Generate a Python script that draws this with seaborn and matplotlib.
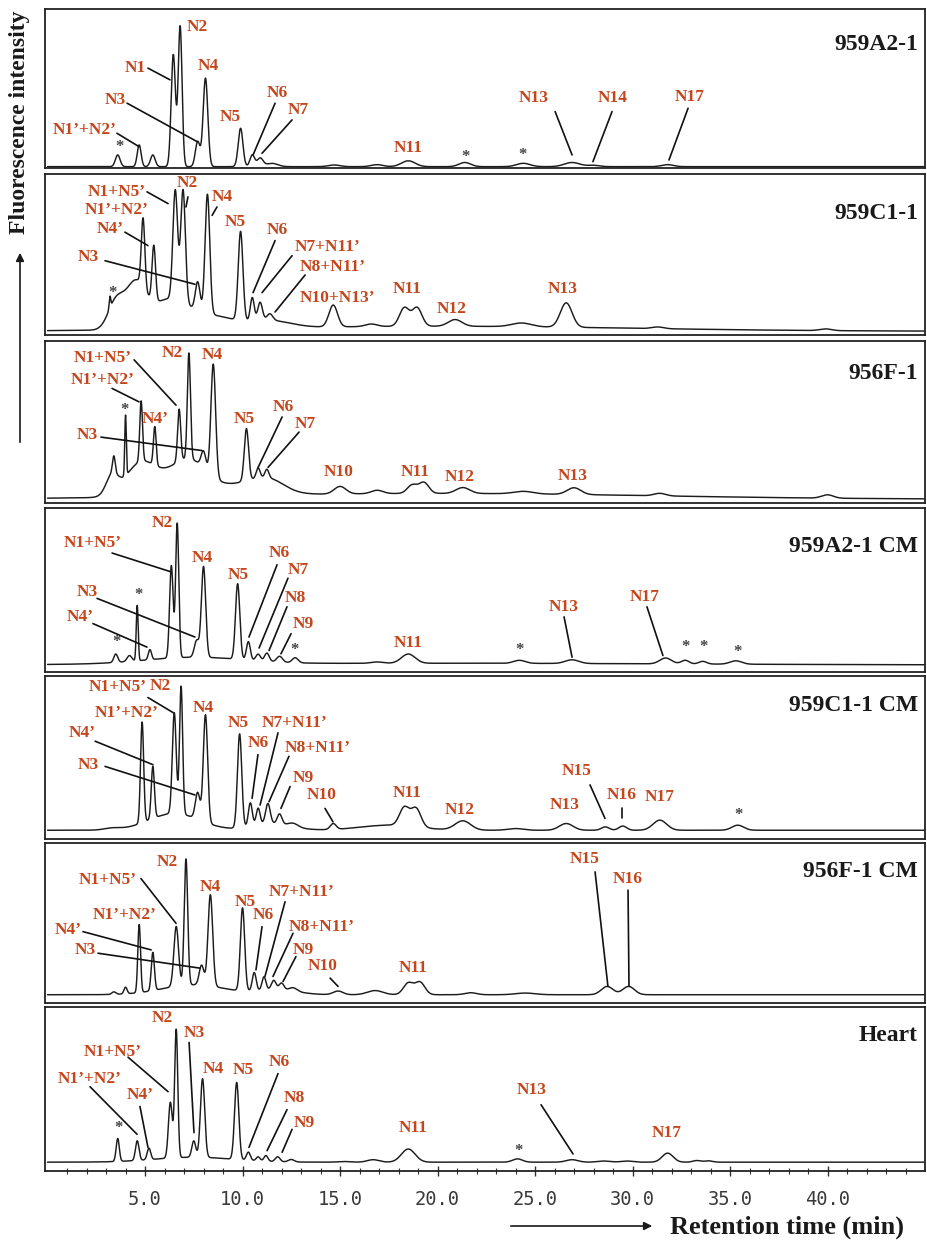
import numpy as np
import pandas as pd
import matplotlib
matplotlib.use("Agg")
import matplotlib.pyplot as plt
import seaborn as sns

# ---------------- data (peak tables) ----------------
panel_names = ["959A2-1", "959C1-1", "956F-1", "959A2-1 CM",
               "959C1-1 CM", "956F-1 CM", "Heart"]

# 959A2-1
a2_rt = [3.6, 4.7, 5.4, 6.45, 6.8, 7.7, 8.1, 9.9, 10.5, 10.9, 11.5, 14.7, 16.9,
         18.5, 21.4, 24.4, 26.9, 28.0, 31.8]
a2_h = [0.07, 0.13, 0.07, 0.67, 0.84, 0.15, 0.53, 0.23, 0.07, 0.05, 0.02, 0.01,
        0.012, 0.035, 0.025, 0.02, 0.025, 0.008, 0.012]
a2_w = [0.12, 0.10, 0.12, 0.11, 0.10, 0.12, 0.12, 0.12, 0.12, 0.15, 0.3, 0.3, 0.3,
        0.35, 0.3, 0.35, 0.4, 0.3, 0.3]
a2_base = 0.02

# 959C1-1
c1_rt = [3.5, 4.5, 6.2, 8.5, 11.5, 20.0,
         3.2, 4.9, 5.45, 6.55, 6.95, 7.7, 8.2, 9.9, 10.5, 10.9, 11.4, 14.65, 16.6,
         18.3, 18.95, 20.9, 24.3, 26.6, 31.3, 39.9]
c1_h = [0.16, 0.25, 0.17, 0.07, 0.04, 0.03,
        0.07, 0.41, 0.33, 0.65, 0.67, 0.17, 0.71, 0.53, 0.14, 0.11, 0.04, 0.13, 0.015,
        0.11, 0.11, 0.04, 0.022, 0.145, 0.01, 0.01]
c1_w = [0.4, 0.5, 1.0, 1.2, 1.0, 10.0,
        0.04, 0.09, 0.09, 0.12, 0.12, 0.12, 0.12, 0.12, 0.10, 0.12, 0.15, 0.22, 0.3,
        0.25, 0.25, 0.35, 0.5, 0.3, 0.3, 0.3]
c1_base = 0.04

# 956F-1
f1_rt = [3.3, 4.8, 7.2, 10.5, 11.5, 20.0,
         3.4, 4.0, 4.8, 5.5, 6.75, 7.25, 8.0, 8.5, 10.2, 10.8, 11.25, 15.0, 16.9,
         18.7, 19.3, 21.3, 24.4, 27.0, 31.4, 40.0]
f1_h = [0.11, 0.20, 0.22, 0.08, 0.04, 0.035,
        0.10, 0.36, 0.36, 0.23, 0.31, 0.63, 0.10, 0.67, 0.31, 0.06, 0.05, 0.045, 0.02,
        0.05, 0.065, 0.035, 0.015, 0.04, 0.015, 0.02]
f1_w = [0.3, 0.8, 1.0, 1.2, 0.7, 11.0,
        0.07, 0.04, 0.07, 0.07, 0.08, 0.08, 0.12, 0.12, 0.11, 0.10, 0.10, 0.3, 0.3,
        0.25, 0.25, 0.35, 0.5, 0.35, 0.3, 0.3]
f1_base = 0.04

# 959A2-1 CM
a2cm_rt = [7.5, 20.0,
           3.5, 4.2, 4.6, 5.25, 6.35, 6.65, 7.65, 8.0, 9.75, 10.3, 10.8, 11.25, 11.9,
           12.7, 16.9, 18.5, 24.2, 26.9, 31.7, 32.7, 33.6, 35.3]
a2cm_h = [0.04, 0.01,
          0.05, 0.035, 0.33, 0.06, 0.55, 0.80, 0.10, 0.54, 0.45, 0.11, 0.04, 0.05, 0.035,
          0.03, 0.008, 0.055, 0.018, 0.022, 0.035, 0.022, 0.016, 0.02]
a2cm_w = [2.5, 12.0,
          0.10, 0.12, 0.05, 0.08, 0.09, 0.08, 0.12, 0.11, 0.11, 0.10, 0.12, 0.12, 0.15,
          0.15, 0.3, 0.35, 0.3, 0.35, 0.3, 0.2, 0.2, 0.3]
a2cm_base = 0.054

# 959C1-1 CM
c1cm_rt = [3.3, 6.5, 11.5, 17.5,
           4.85, 5.4, 6.5, 6.85, 7.7, 8.1, 9.85, 10.4, 10.8, 11.3, 11.9, 12.6, 14.65,
           18.3, 18.9, 21.3, 24.0, 26.6, 28.6, 29.5, 31.4, 35.4]
c1cm_h = [0.01, 0.10, 0.04, 0.03,
          0.60, 0.31, 0.60, 0.76, 0.16, 0.64, 0.56, 0.14, 0.10, 0.12, 0.06, 0.02, 0.035,
          0.11, 0.11, 0.055, 0.01, 0.04, 0.02, 0.025, 0.06, 0.03]
c1cm_w = [0.4, 1.3, 1.0, 1.5,
          0.08, 0.08, 0.10, 0.08, 0.12, 0.11, 0.11, 0.10, 0.10, 0.12, 0.12, 0.25, 0.15,
          0.25, 0.25, 0.4, 0.4, 0.35, 0.2, 0.2, 0.35, 0.3]
c1cm_base = 0.07

# 956F-1 CM
f1cm_rt = [7.5, 11.8,
           3.4, 4.0, 4.7, 5.4, 6.6, 7.1, 7.9, 8.35, 10.0, 10.6, 11.1, 11.6, 12.0, 12.6,
           14.9, 16.8, 18.5, 19.1, 21.7, 24.5, 28.7, 29.8]
f1cm_h = [0.06, 0.03,
          0.015, 0.04, 0.41, 0.23, 0.36, 0.76, 0.12, 0.55, 0.50, 0.11, 0.08, 0.055, 0.04,
          0.02, 0.022, 0.025, 0.07, 0.075, 0.012, 0.01, 0.05, 0.05]
f1cm_w = [1.6, 1.0,
          0.10, 0.08, 0.07, 0.08, 0.12, 0.09, 0.12, 0.12, 0.11, 0.10, 0.10, 0.12, 0.12,
          0.2, 0.25, 0.4, 0.25, 0.25, 0.3, 0.5, 0.3, 0.3]
f1cm_base = 0.08

# Heart
heart_rt = [7.5,
            3.6, 4.6, 5.2, 6.3, 6.6, 7.5, 7.95, 9.7, 10.3, 10.8, 11.2, 11.8, 12.5, 15.2,
            16.7, 18.5, 24.1, 26.9, 28.5, 29.7, 31.8, 33.3, 33.9]
heart_h = [0.03,
           0.14, 0.12, 0.07, 0.34, 0.78, 0.10, 0.48, 0.47, 0.05, 0.025, 0.035, 0.03, 0.015,
           0.004, 0.015, 0.08, 0.02, 0.015, 0.007, 0.007, 0.055, 0.01, 0.008]
heart_w = [2.0,
           0.08, 0.09, 0.09, 0.10, 0.08, 0.10, 0.11, 0.11, 0.10, 0.10, 0.10, 0.12, 0.15,
           0.3, 0.3, 0.35, 0.25, 0.3, 0.3, 0.3, 0.28, 0.2, 0.2]
heart_base = 0.06

peak_tables = [(a2_rt, a2_h, a2_w, a2_base), (c1_rt, c1_h, c1_w, c1_base),
               (f1_rt, f1_h, f1_w, f1_base), (a2cm_rt, a2cm_h, a2cm_w, a2cm_base),
               (c1cm_rt, c1cm_h, c1cm_w, c1cm_base), (f1cm_rt, f1cm_h, f1cm_w, f1cm_base),
               (heart_rt, heart_h, heart_w, heart_base)]

tick_values = [5, 10, 15, 20, 25, 30, 35, 40]
tick_labels = ["5.0", "10.0", "15.0", "20.0", "25.0", "30.0", "35.0", "40.0"]

# ---------------- annotations: (text, x, y, leader line or None) ----------------
ann = [
    [("N2", 7.67, 0.856, None), ("N1", 4.49, 0.61, (5.15, 0.61, 6.28, 0.54)),
     ("N4", 8.23, 0.62, None), ("N3", 3.46, 0.42, (4.08, 0.40, 7.67, 0.17)),
     ("N1’+N2’", 1.92, 0.24, (3.56, 0.22, 4.69, 0.14)), ("N5", 9.36, 0.32, None),
     ("N6", 11.77, 0.46, (11.67, 0.40, 10.54, 0.09)),
     ("N7", 12.85, 0.36, (12.54, 0.30, 11.0, 0.10)), ("N11", 18.49, 0.13, None),
     ("*", 3.67, 0.14, None), ("*", 21.41, 0.08, None), ("*", 24.38, 0.09, None),
     ("N13", 24.95, 0.43, (26.03, 0.35, 26.9, 0.09)),
     ("N14", 29.0, 0.43, (28.95, 0.35, 27.97, 0.05)),
     ("N17", 32.95, 0.44, (32.85, 0.37, 31.87, 0.06))],
    [("N1+N5’", 3.56, 0.87, (5.1, 0.87, 6.18, 0.80)), ("N2", 7.15, 0.92, (7.2, 0.84, 7.1, 0.78)),
     ("N1’+N2’", 3.56, 0.76, None), ("N4", 8.95, 0.84, (8.69, 0.78, 8.44, 0.73)),
     ("N4’", 3.21, 0.65, (3.97, 0.63, 5.15, 0.55)), ("N5", 9.62, 0.69, None),
     ("N6", 11.77, 0.64, (11.67, 0.58, 10.54, 0.27)),
     ("N7+N11’", 14.38, 0.54, (12.54, 0.49, 11.0, 0.27)),
     ("N8+N11’", 14.64, 0.42, (13.21, 0.375, 11.67, 0.155)),
     ("N3", 2.08, 0.48, (2.95, 0.46, 7.56, 0.32)), ("N10+N13’", 14.85, 0.24, None),
     ("N11", 18.44, 0.29, None), ("N12", 20.74, 0.17, None), ("*", 3.31, 0.27, None),
     ("N13", 26.44, 0.29, None)],
    [("N1+N5’", 2.85, 0.88, (4.44, 0.87, 6.59, 0.60)), ("N2", 6.38, 0.91, None),
     ("N4", 8.44, 0.90, None), ("N1’+N2’", 2.85, 0.75, (3.31, 0.70, 4.69, 0.62)),
     ("*", 3.97, 0.57, None), ("N4’", 5.51, 0.52, None),
     ("N3", 2.03, 0.42, (2.74, 0.41, 7.92, 0.33)), ("N5", 10.08, 0.52, None),
     ("N6", 12.08, 0.59, (12.03, 0.53, 10.8, 0.23)),
     ("N7", 13.21, 0.49, (12.9, 0.44, 11.31, 0.23)), ("N10", 14.95, 0.20, None),
     ("N11", 18.85, 0.20, None), ("N12", 21.15, 0.17, None), ("N13", 26.95, 0.18, None)],
    [("N2", 5.87, 0.90, None), ("N1+N5’", 2.33, 0.78, (3.31, 0.72, 6.28, 0.61)),
     ("N4", 7.92, 0.69, None), ("N5", 9.77, 0.59, None),
     ("N6", 11.87, 0.72, (11.77, 0.65, 10.33, 0.22)),
     ("N7", 12.85, 0.62, (12.33, 0.57, 10.85, 0.155)),
     ("N8", 12.69, 0.45, (12.28, 0.40, 11.36, 0.14)),
     ("N9", 13.1, 0.30, (12.49, 0.24, 11.97, 0.12)), ("*", 12.69, 0.14, None),
     ("N3", 2.03, 0.49, (2.54, 0.45, 7.56, 0.22)), ("*", 4.64, 0.47, None),
     ("N4’", 1.67, 0.34, (2.33, 0.30, 5.1, 0.16)), ("*", 3.56, 0.19, None),
     ("N11", 18.49, 0.185, None), ("*", 24.18, 0.14, None),
     ("N13", 26.49, 0.40, (26.49, 0.34, 26.9, 0.10)),
     ("N17", 30.64, 0.46, (30.74, 0.40, 31.56, 0.11)),
     ("*", 32.74, 0.16, None), ("*", 33.62, 0.16, None), ("*", 35.36, 0.13, None)],
    [("N1+N5’", 3.62, 0.92, (5.15, 0.86, 6.44, 0.77)), ("N2", 5.77, 0.93, None),
     ("N1’+N2’", 4.08, 0.77, None), ("N4", 7.97, 0.80, None),
     ("N4’", 1.77, 0.65, (2.44, 0.60, 5.41, 0.46)),
     ("N3", 2.08, 0.46, (2.95, 0.45, 7.56, 0.28)), ("N5", 9.77, 0.71, None),
     ("N6", 10.79, 0.59, (10.79, 0.52, 10.49, 0.26)),
     ("N7+N11’", 12.69, 0.71, (11.82, 0.65, 10.9, 0.22)),
     ("N8+N11’", 13.87, 0.56, (12.38, 0.51, 11.36, 0.24)),
     ("N9", 13.1, 0.38, (12.44, 0.33, 11.97, 0.20)),
     ("N10", 14.08, 0.28, (14.23, 0.20, 14.64, 0.12)),
     ("N11", 18.44, 0.29, None), ("N12", 21.15, 0.19, None),
     ("N15", 27.15, 0.42, (27.82, 0.34, 28.59, 0.14)),
     ("N16", 29.46, 0.28, (29.46, 0.20, 29.46, 0.14)),
     ("N13", 26.54, 0.22, None), ("N17", 31.41, 0.27, None), ("*", 35.41, 0.16, None)],
    [("N2", 6.13, 0.88, None), ("N1+N5’", 3.1, 0.77, (4.79, 0.78, 6.59, 0.51)),
     ("N4", 8.33, 0.73, None), ("N5", 10.13, 0.64, None),
     ("N6", 11.05, 0.56, (11.0, 0.49, 10.69, 0.23)),
     ("N7+N11’", 13.05, 0.70, (12.18, 0.64, 11.15, 0.19)),
     ("N8+N11’", 14.08, 0.49, (12.59, 0.45, 11.56, 0.19)),
     ("N9", 13.1, 0.35, (12.74, 0.31, 12.08, 0.16)),
     ("N10", 14.13, 0.25, (14.49, 0.18, 14.9, 0.13)), ("N11", 18.74, 0.24, None),
     ("N1’+N2’", 3.97, 0.56, None), ("N4’", 1.05, 0.47, (1.82, 0.46, 5.31, 0.35)),
     ("N3", 1.92, 0.35, (2.59, 0.33, 7.82, 0.24)),
     ("N15", 27.56, 0.90, (28.08, 0.82, 28.74, 0.13)),
     ("N16", 29.77, 0.78, (29.77, 0.71, 29.82, 0.13))],
    [("N2", 5.87, 0.94, None), ("N3", 7.51, 0.85, (7.26, 0.79, 7.51, 0.24)),
     ("N1+N5’", 3.36, 0.73, (4.13, 0.70, 6.18, 0.49)), ("N4", 8.49, 0.63, None),
     ("N5", 10.03, 0.62, None), ("N6", 11.87, 0.67, (11.82, 0.60, 10.33, 0.15)),
     ("N8", 12.64, 0.45, (12.28, 0.38, 11.26, 0.13)),
     ("N9", 13.15, 0.30, (12.54, 0.26, 12.03, 0.12)),
     ("N1’+N2’", 2.18, 0.57, (2.18, 0.52, 4.59, 0.23)),
     ("N4’", 4.74, 0.47, (4.74, 0.40, 5.15, 0.15)), ("*", 3.62, 0.27, None),
     ("N11", 18.74, 0.27, None), ("N13", 24.85, 0.50, (25.31, 0.41, 26.95, 0.11)),
     ("N17", 31.77, 0.24, None), ("*", 24.13, 0.13, None)],
]
name_y = [0.75, 0.744, 0.79, 0.756, 0.815, 0.82, 0.835]

# ---------------- layout ----------------
W, H = 927, 1241
axes_px = [(9, 168), (174, 335), (341, 503), (508, 672), (676, 839), (843, 1003), (1007, 1171)]
ref_frame = [(170, 167), (338, 168), (506, 168), (674, 168), (842, 168), (1008, 166), (1172, 164)]
left_px, right_px = 45, 925
xlim = (-0.13, 45.0)

sns.set_theme(style="white")
plt.rcParams["font.family"] = ["Liberation Serif", "DejaVu Serif"]

fig = plt.figure(figsize=(W / 100, H / 100), dpi=100)
t = np.linspace(0, 45.0, 6000)
label_color = "#c4461c"

for i, (rt, hh, ww, base) in enumerate(peak_tables):
    top, bot = axes_px[i]
    B, Hh = ref_frame[i]
    ax = fig.add_axes([left_px / W, 1 - bot / H, (right_px - left_px) / W, (bot - top) / H])
    sig = np.full_like(t, base)
    for r, a, s in zip(rt, hh, ww):
        sig = sig + a * np.exp(-0.5 * ((t - r) / s) ** 2)
    df = pd.DataFrame({"t": t, "signal": sig})
    sns.lineplot(data=df, x="t", y="signal", ax=ax, color="#1c1c1c", lw=1.05)
    ax.set_xlim(*xlim)
    ax.set_ylim((B - bot) / Hh, (B - top) / Hh)
    ax.set_xlabel("")
    ax.set_ylabel("")
    ax.set_yticks([])
    for sp in ax.spines.values():
        sp.set_linewidth(1.3)
        sp.set_color("#222222")
        sp.set_visible(True)
    if i < len(peak_tables) - 1:
        ax.set_xticks([])
    else:
        ax.set_xticks(tick_values)
        ax.set_xticklabels(tick_labels, fontfamily="DejaVu Sans Mono", fontsize=13.5,
                           color="#3a3a3a")
        ax.set_xticks(np.arange(1, 45, 1), minor=True)
        ax.tick_params(axis="x", which="major", direction="inout", length=7, width=1.0,
                       color="#333333", pad=10, bottom=True)
        ax.tick_params(axis="x", which="minor", direction="inout", length=5, width=0.8,
                       color="#333333", bottom=True)
    for (txt, x, y, line) in ann[i]:
        if txt == "*":
            ax.text(x, y, txt, ha="center", va="center", fontsize=12, fontweight="bold",
                    color="#444444")
        else:
            ax.text(x, y, txt, ha="center", va="center", fontsize=12.5, fontweight="bold",
                    color=label_color)
        if line is not None:
            ax.plot([line[0], line[2]], [line[1], line[3]], color="#111111", lw=1.2)
    ax.text(44.64, name_y[i], panel_names[i], ha="right", va="center", fontsize=17,
            fontweight="bold", color="#1a1a1a")

# axis titles with arrows
fig.text(20 / W, 1 - 122 / H, "Fluorescence intensity", rotation=90, ha="center",
         va="center", fontsize=17, fontweight="bold", color="#1a1a1a")
fig.add_artist(matplotlib.patches.FancyArrowPatch(
    (20 / W, 1 - 445 / H), (20 / W, 1 - 250 / H), transform=fig.transFigure,
    arrowstyle="-|>", mutation_scale=12, lw=1.2, color="#1a1a1a"))
fig.text(787 / W, 1 - 1227 / H, "Retention time (min)", ha="center", va="center",
         fontsize=19, fontweight="bold", color="#1a1a1a")
fig.add_artist(matplotlib.patches.FancyArrowPatch(
    (508 / W, 1 - 1226 / H), (655 / W, 1 - 1226 / H), transform=fig.transFigure,
    arrowstyle="-|>", mutation_scale=12, lw=1.2, color="#1a1a1a"))

fig.savefig("out.png", dpi=100, facecolor="white")
